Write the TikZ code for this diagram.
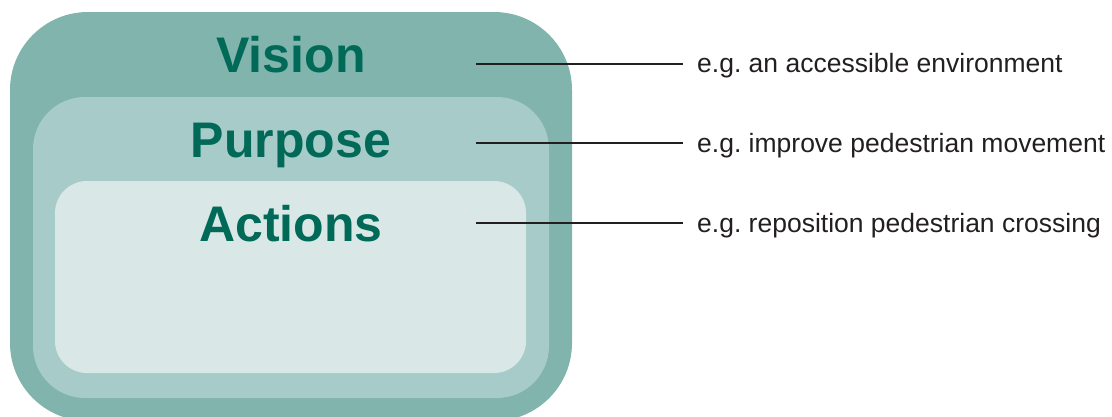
\documentclass[tikz,border=0pt]{standalone}
\usepackage{fontspec}
\setmainfont{Liberation Sans}
\frenchspacing
\definecolor{outerfill}{RGB}{128,180,172}
\definecolor{middlefill}{RGB}{166,203,200}
\definecolor{innerfill}{RGB}{217,232,231}
\definecolor{titlegreen}{RGB}{0,105,88}
\definecolor{labelgrey}{RGB}{35,31,32}
\tikzset{
  layer/.style={draw=none},
  title/.style={anchor=base, inner sep=0pt, text=titlegreen,
    font=\fontsize{50}{50}\selectfont\bfseries},
  example/.style={anchor=base west, inner sep=0pt, text=labelgrey,
    font=\fontsize{26.5}{26.5}\selectfont},
  leader/.style={draw=labelgrey, line width=1.1pt, shorten >=14pt}
}
\begin{document}
\begin{tikzpicture}[x=1pt, y=-1pt]
\useasboundingbox (0,0) rectangle (1112,416);

% nested rounded layers
\fill[outerfill, rounded corners=78pt] (10,12) rectangle (572,421);
\fill[middlefill, rounded corners=52pt] (33,97) rectangle (549,398);
\fill[innerfill, rounded corners=32pt] (55,181) rectangle (526,373);

% layer titles
\node[title] (vision) at (291,72) {Vision};
\node[title] (purpose) at (291,157) {Purpose};
\node[title] (actions) at (291,241) {Actions};

% examples on the right
\node[example] (lv) at (697,72) {e.g. an accessible environment};
\node[example] (lp) at (697,152) {e.g. improve pedestrian movement};
\node[example] (la) at (697,232) {e.g. reposition pedestrian crossing};

% leader lines
\coordinate (v0) at (476,64);
\coordinate (p0) at (476,143);
\coordinate (a0) at (476,223);
\draw[leader] (v0) -- (v0 -| lv.west);
\draw[leader] (p0) -- (p0 -| lp.west);
\draw[leader] (a0) -- (a0 -| la.west);
\end{tikzpicture}
\end{document}
